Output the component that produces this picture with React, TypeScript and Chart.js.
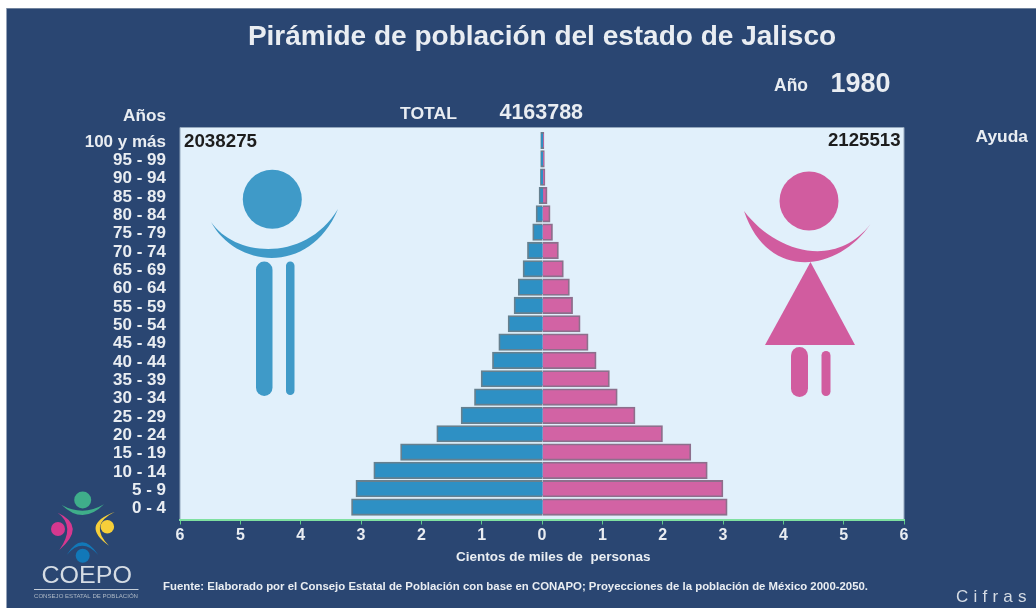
import React, { useEffect, useRef } from "react";
import { Chart, registerables } from "chart.js";

Chart.register(...registerables);

const ageLabels = ["100 y más","95 - 99","90 - 94","85 - 89","80 - 84","75 - 79","70 - 74","65 - 69","60 - 64","55 - 59","50 - 54","45 - 49","40 - 44","35 - 39","30 - 34","25 - 29","20 - 24","15 - 19","10 - 14","5 - 9","0 - 4"];
const menValues = [0.017,0.018,0.022,0.045,0.094,0.15,0.237,0.31,0.39,0.459,0.558,0.712,0.817,1.005,1.115,1.337,1.74,2.34,2.784,3.08,3.153];
const womenValues = [0.028,0.035,0.045,0.08,0.13,0.17,0.268,0.35,0.45,0.503,0.628,0.76,0.893,1.113,1.243,1.538,1.993,2.463,2.735,2.995,3.065];
const titleText = "Pirámide de población del estado de Jalisco";
const axisTitle = "Cientos de miles de  personas";
const sourceText = "Fuente: Elaborado por el Consejo Estatal de Población con base en CONAPO; Proyecciones de la población de México 2000-2050.";
const totalValue = "4163788";
const menTotal = "2038275";
const womenTotal = "2125513";
const yearValue = "1980";

const NAVY = "#2a4672";
const TEXT = "#e9edf2";
const FONT = "'Liberation Sans', Arial, sans-serif";

type Ctx = CanvasRenderingContext2D;

function fitText(ctx: Ctx, s: string, x: number, width: number, y: number, size: number, weight = "bold", color = TEXT) {
  ctx.save();
  ctx.font = `${weight} ${size}px ${FONT}`;
  ctx.fillStyle = color;
  ctx.textBaseline = "middle";
  ctx.textAlign = "left";
  const w = ctx.measureText(s).width;
  ctx.translate(x, y);
  ctx.scale(width / w, 1);
  ctx.fillText(s, 0, 0);
  ctx.restore();
}

function disc(ctx: Ctx, x: number, y: number, r: number, color: string) {
  ctx.fillStyle = color;
  ctx.beginPath();
  ctx.arc(x, y, r, 0, Math.PI * 2);
  ctx.fill();
}

function pill(ctx: Ctx, x: number, y: number, w: number, h: number, color: string) {
  ctx.fillStyle = color;
  ctx.beginPath();
  ctx.roundRect(x, y, w, h, w / 2);
  ctx.fill();
}

function quadCrescent(ctx: Ctx, ax: number, ay: number, ox: number, oy: number, ix: number, iy: number, bx: number, by: number, color: string) {
  ctx.fillStyle = color;
  ctx.beginPath();
  ctx.moveTo(ax, ay);
  ctx.quadraticCurveTo(ox, oy, bx, by);
  ctx.quadraticCurveTo(ix, iy, ax, ay);
  ctx.fill();
}

function cubicCrescent(ctx: Ctx, a: number[], o1: number[], o2: number[], b: number[], i2: number[], i1: number[], color: string) {
  ctx.fillStyle = color;
  ctx.beginPath();
  ctx.moveTo(a[0], a[1]);
  ctx.bezierCurveTo(o1[0], o1[1], o2[0], o2[1], b[0], b[1]);
  ctx.bezierCurveTo(i2[0], i2[1], i1[0], i1[1], a[0], a[1]);
  ctx.fill();
}

function drawDecor(ctx: Ctx) {
  // man
  const blue = "#3f9ac8";
  disc(ctx, 272.3, 199.3, 29.5, blue);
  cubicCrescent(ctx, [211, 222], [236, 268], [310, 276], [338, 209], [306, 262], [236, 258], blue);
  pill(ctx, 256, 261.5, 16.5, 134.5, blue);
  pill(ctx, 286, 261.5, 8.5, 133.5, blue);
  // woman
  const pink = "#d15c9f";
  disc(ctx, 809, 201, 29.5, pink);
  cubicCrescent(ctx, [744, 211], [768, 282], [838, 272], [870.5, 224], [835, 270], [775, 252], pink);
  ctx.fillStyle = pink;
  ctx.beginPath();
  ctx.moveTo(810.5, 262);
  ctx.lineTo(855, 345);
  ctx.lineTo(765, 345);
  ctx.closePath();
  ctx.fill();
  pill(ctx, 791, 347, 17, 50, pink);
  pill(ctx, 821.5, 351, 9, 45, pink);
  // logo
  disc(ctx, 82.7, 500, 8.5, "#3fae8a");
  quadCrescent(ctx, 61.7, 505, 83, 525.4, 83, 516.8, 104, 504.3, "#3fae8a");
  disc(ctx, 58, 529, 7, "#d6388f");
  quadCrescent(ctx, 57.7, 512.7, 86.9, 526, 76, 526, 59.3, 550, "#d6388f");
  disc(ctx, 107.3, 526.7, 6.8, "#f6cf3a");
  quadCrescent(ctx, 115, 511.7, 79.4, 524.7, 88, 524.7, 109, 545.7, "#f6cf3a");
  disc(ctx, 82.7, 555.7, 7, "#1278b8");
  quadCrescent(ctx, 66.7, 555, 82, 529.6, 82, 536.4, 98.3, 555, "#1278b8");
  fitText(ctx, "COEPO", 41.5, 90.5, 576, 24.5, "normal", "#d5dce4");
  ctx.fillStyle = "#c7d0da";
  ctx.fillRect(34, 589, 104.5, 1);
  fitText(ctx, "CONSEJO ESTATAL DE POBLACIÓN", 34, 104, 596.5, 5, "normal", "#aeb9c6");
  // header and footer texts
  fitText(ctx, "Años", 123, 43, 116, 17);
  fitText(ctx, "TOTAL", 400, 57, 114, 17);
  fitText(ctx, totalValue, 499.5, 83.5, 113, 21.5);
  fitText(ctx, "Año", 774, 34, 86, 17.5);
  fitText(ctx, yearValue, 830.5, 60, 85, 27);
  fitText(ctx, "Ayuda", 975.5, 52.5, 137, 17);
  fitText(ctx, menTotal, 184, 73, 142, 18.5, "bold", "#1d1d1d");
  fitText(ctx, womenTotal, 828, 72.5, 141, 18.5, "bold", "#1d1d1d");
  fitText(ctx, sourceText, 163, 705, 587, 10);
  ctx.save();
  ctx.font = `normal 17px ${FONT}`;
  ctx.fillStyle = "#d5dbe3";
  ctx.textBaseline = "middle";
  (ctx as any).letterSpacing = "5.2px";
  ctx.fillText("Cifras", 956, 597);
  ctx.restore();
}

const backdrop = {
  id: "backdrop",
  beforeDraw(chart: any) {
    const { ctx, chartArea: a, width, height } = chart;
    ctx.save();
    ctx.fillStyle = "#ffffff";
    ctx.fillRect(0, 0, width, height);
    ctx.fillStyle = "#b9c0c9";
    ctx.fillRect(6, 8, width - 6, 1);
    ctx.fillStyle = NAVY;
    ctx.fillRect(6.5, 8.5, width - 6.5, height - 8.5);
    ctx.fillStyle = "#e1f0fb";
    ctx.fillRect(a.left, a.top, a.right - a.left, a.bottom - a.top);
    ctx.strokeStyle = "#93a7bd";
    ctx.lineWidth = 1;
    ctx.beginPath();
    ctx.moveTo(a.left, a.bottom);
    ctx.lineTo(a.left, a.top);
    ctx.lineTo(a.right, a.top);
    ctx.lineTo(a.right, a.bottom);
    ctx.stroke();
    drawDecor(ctx);
    ctx.restore();
  },
};

export default function App() {
  const ref = useRef<HTMLCanvasElement>(null);
  useEffect(() => {
    const chart = new Chart(ref.current as HTMLCanvasElement, {
      type: "bar",
      data: {
        datasets: [
          {
            label: "Hombres",
            data: menValues.map((v, i) => ({ x: -v, y: i })),
            backgroundColor: "#2e90c4",
            borderColor: "#66808f",
            borderWidth: 1.8,
            inflateAmount: 0.6,
            base: 0.01,
            barThickness: 16,
            grouped: false,
          },
          {
            label: "Mujeres",
            data: womenValues.map((v, i) => ({ x: v, y: i })),
            backgroundColor: "#d263a4",
            borderColor: "#8d6f8c",
            borderWidth: 1.8,
            inflateAmount: 0.6,
            barThickness: 16,
            grouped: false,
          },
        ],
      },
      options: {
        indexAxis: "y",
        responsive: false,
        animation: false,
        layout: { padding: { left: 0, right: 132, top: 8, bottom: 0 } },
        plugins: {
          legend: { display: false },
          tooltip: { enabled: false },
          title: {
            display: true,
            text: titleText,
            fullSize: false,
            color: TEXT,
            font: { family: FONT, size: 28, weight: "bold", lineHeight: 1.2 },
            padding: { top: 12.5, bottom: 73.4 },
          },
        },
        scales: {
          x: {
            type: "linear",
            min: -6,
            max: 6,
            afterFit: (s: any) => { s.height = 88.5; },
            border: { color: "#7fe0a0", width: 2 },
            grid: { drawOnChartArea: false, drawTicks: true, color: "#5fc98a", tickLength: 5 },
            ticks: {
              stepSize: 1,
              color: TEXT,
              padding: 1,
              maxRotation: 0,
              font: { family: FONT, size: 16, weight: "bold" },
              callback: (v: any) => String(Math.abs(Number(v))),
            },
            title: {
              display: true,
              text: " ".repeat(6) + axisTitle,
              color: TEXT,
              font: { family: FONT, size: 13.5, weight: "bold" },
              padding: { top: 0, bottom: 43 },
            },
          },
          y: {
            type: "linear",
            reverse: true,
            offset: false,
            min: -0.709,
            max: 20.68,
            afterFit: (s: any) => { s.width = 180; },
            afterBuildTicks: (s: any) => { s.ticks = ageLabels.map((_, i) => ({ value: i })); },
            border: { display: false },
            grid: { display: false, offset: false },
            ticks: {
              autoSkip: false,
              color: TEXT,
              padding: 6,
              labelOffset: 1.5,
              font: { family: FONT, size: 17, weight: "bold" },
              callback: (v: any) => ageLabels[Number(v)],
            },
          },
        },
      },
      plugins: [backdrop],
    } as any);
    return () => chart.destroy();
  }, []);
  return (
    <div style={{ position: "absolute", left: 0, top: 0, width: 1036, height: 608 }}>
      <canvas ref={ref} width={1036} height={608} style={{ display: "block" }} />
    </div>
  );
}
